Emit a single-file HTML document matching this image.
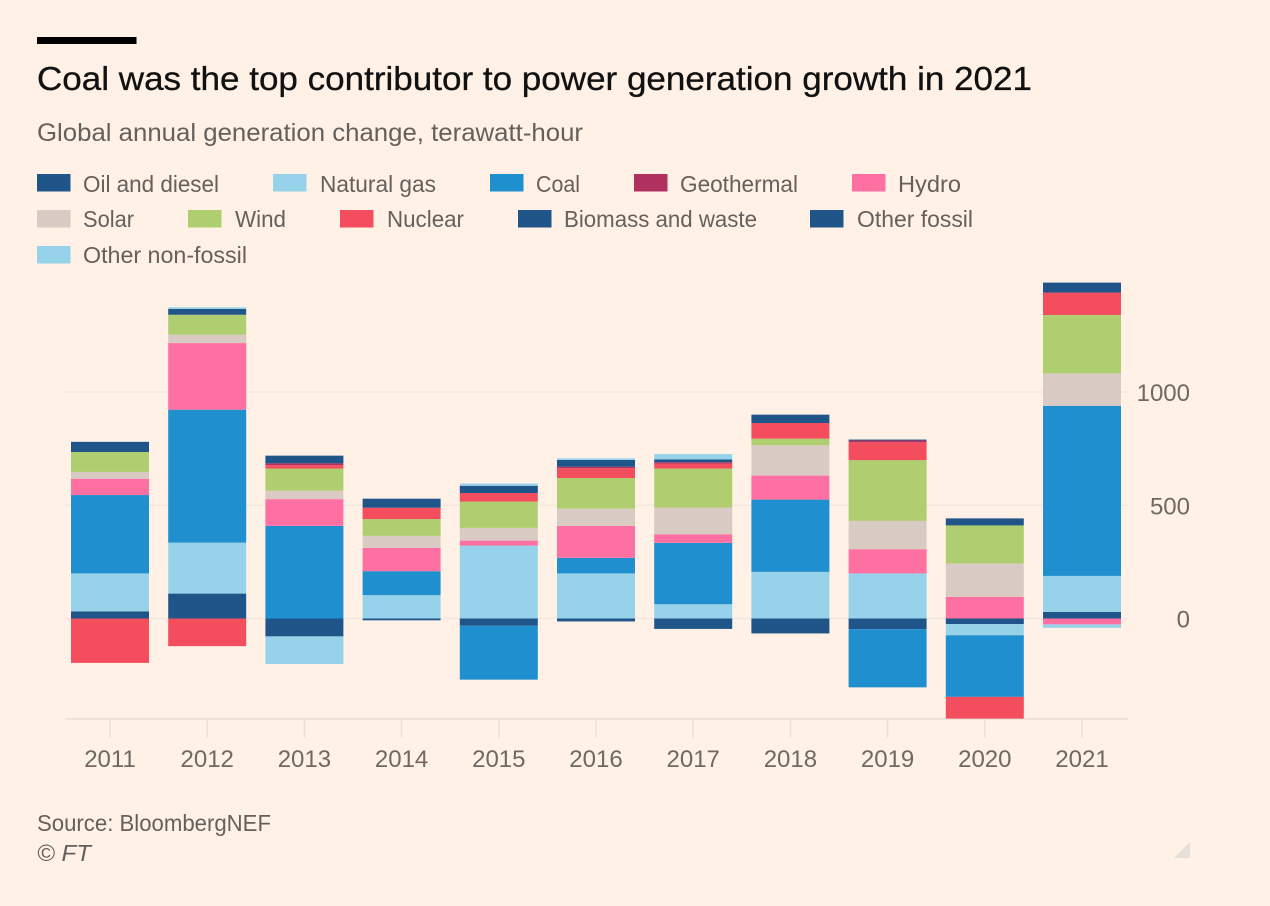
<!DOCTYPE html>
<html lang="en">
<head>
<meta charset="utf-8">
<title>Coal was the top contributor to power generation growth in 2021</title>
<style>
html,body{margin:0;padding:0;background:#fff1e6;}
svg{display:block;font-family:"Liberation Sans",sans-serif;}
.lg{font-size:23px;fill:#66605c;}
.tick{font-size:24px;fill:#6f6964;}
</style>
</head>
<body>
<svg id="chart" width="1270" height="906" viewBox="0 0 1270 906" xmlns="http://www.w3.org/2000/svg">
  <rect x="0" y="0" width="1270" height="906" fill="#fff1e6"/>
  <rect x="37" y="37" width="99.500" height="7" fill="#000"/>
  <text x="37" y="90" font-size="33" fill="#111" stroke="#111" stroke-width="0.3" textLength="995" lengthAdjust="spacingAndGlyphs">Coal was the top contributor to power generation growth in 2021</text>
  <text x="37" y="141" font-size="25" fill="#66605c" textLength="546" lengthAdjust="spacingAndGlyphs">Global annual generation change, terawatt-hour</text>

  <g>
    <g><rect x="37" y="174" width="33.500" height="17.500" fill="#20558a"/><text class="lg" x="83" y="192" textLength="136" lengthAdjust="spacingAndGlyphs">Oil and diesel</text></g>
    <g><rect x="273" y="174" width="33.500" height="17.500" fill="#96d2e9"/><text class="lg" x="320" y="192" textLength="116" lengthAdjust="spacingAndGlyphs">Natural gas</text></g>
    <g><rect x="490" y="174" width="33.500" height="17.500" fill="#1f8fcf"/><text class="lg" x="536" y="192" textLength="44" lengthAdjust="spacingAndGlyphs">Coal</text></g>
    <g><rect x="634" y="174" width="33.500" height="17.500" fill="#b03060"/><text class="lg" x="680" y="192" textLength="118" lengthAdjust="spacingAndGlyphs">Geothermal</text></g>
    <g><rect x="852" y="174" width="33.500" height="17.500" fill="#ff70a2"/><text class="lg" x="898" y="192" textLength="63" lengthAdjust="spacingAndGlyphs">Hydro</text></g>
    <g><rect x="37" y="210" width="33.500" height="17.500" fill="#d9cbc3"/><text class="lg" x="83" y="227" textLength="51" lengthAdjust="spacingAndGlyphs">Solar</text></g>
    <g><rect x="188" y="210" width="33.500" height="17.500" fill="#afce70"/><text class="lg" x="235" y="227" textLength="51" lengthAdjust="spacingAndGlyphs">Wind</text></g>
    <g><rect x="340" y="210" width="33.500" height="17.500" fill="#f44e5e"/><text class="lg" x="387" y="227" textLength="77" lengthAdjust="spacingAndGlyphs">Nuclear</text></g>
    <g><rect x="518" y="210" width="33.500" height="17.500" fill="#20558a"/><text class="lg" x="564" y="227" textLength="193" lengthAdjust="spacingAndGlyphs">Biomass and waste</text></g>
    <g><rect x="810" y="210" width="33.500" height="17.500" fill="#20558a"/><text class="lg" x="857" y="227" textLength="116" lengthAdjust="spacingAndGlyphs">Other fossil</text></g>
    <g><rect x="37" y="246" width="33.500" height="17.500" fill="#96d2e9"/><text class="lg" x="83" y="263" textLength="164" lengthAdjust="spacingAndGlyphs">Other non-fossil</text></g>
  </g>

  <g id="grid"></g>
  <g id="xaxis"></g>
  <g id="bars"></g>
  <g id="yaxis"></g>

  <text x="37" y="831" font-size="23" fill="#66605c" textLength="234" lengthAdjust="spacingAndGlyphs">Source: BloombergNEF</text>
  <text x="37" y="861" font-size="23" font-style="italic" fill="#66605c" textLength="54" lengthAdjust="spacingAndGlyphs">© FT</text>
  <polygon points="1190,842 1190,858 1174,858" fill="#e6e0db"/>
</svg>

<script>
var years = ['2011','2012','2013','2014','2015','2016','2017','2018','2019','2020','2021'];
var yTicks = [0, 500, 1000];
var oilDiesel = [31,110,-79,-8,-32,-13,-46,-66,-47,-25,29];
var naturalGas = [168,225,-122,103,322,199,63,206,199,-49,159];
var coal = [346,587,409,106,-238,69,271,319,-257,-272,751];
var hydro = [72,294,118,103,22,141,38,106,107,96,-26];
var solar = [30,37,37,53,56,76,118,134,125,147,143];
var wind = [88,88,98,74,116,135,172,29,268,168,258];
var nuclear = [-196,-122,15,50,38,44,22,69,79,-96,99];
var geothermal = [0,0,8,0,0,6,6,0,8,0,0];
var biomassWaste = [45,26,34,40,32,30,12,37,4,31,44];
var otherFossil = [0,0,0,0,0,0,0,0,0,0,0];
var otherNonFossil = [0,7,0,0,10,7,24,0,0,0,-15];
var axisMinimum = -443;

var NS = 'http://www.w3.org/2000/svg';
var seriesList = [
  {key:'oil-and-diesel', values:oilDiesel, color:'#20558a'},
  {key:'natural-gas', values:naturalGas, color:'#96d2e9'},
  {key:'coal', values:coal, color:'#1f8fcf'},
  {key:'hydro', values:hydro, color:'#ff70a2'},
  {key:'solar', values:solar, color:'#d9cbc3'},
  {key:'wind', values:wind, color:'#afce70'},
  {key:'nuclear', values:nuclear, color:'#f44e5e'},
  {key:'geothermal', values:geothermal, color:'#b03060'},
  {key:'biomass-and-waste', values:biomassWaste, color:'#20558a'},
  {key:'other-fossil', values:otherFossil, color:'#20558a'},
  {key:'other-non-fossil', values:otherNonFossil, color:'#96d2e9'}
];
function yScale(v){ return 618.5 - v * 0.2265; }
function xScale(i){ return 110 + i * 97.2; }
var barWidth = 78;
function make(tag, attrs, parent){
  var el = document.createElementNS(NS, tag);
  for (var k in attrs) el.setAttribute(k, attrs[k]);
  parent.appendChild(el);
  return el;
}

var grid = document.getElementById('grid');
yTicks.forEach(function(t){
  var line = make('line', {x1:65, x2:1128, y1:yScale(t), y2:yScale(t), stroke:'#f4e8de', 'stroke-width':1.5}, grid);
  
  
});

var xaxis = document.getElementById('xaxis');
var baseY = yScale(axisMinimum);
var baseLine = make('line', {x1:65, x2:1128, y1:baseY, y2:baseY, stroke:'#eee2d8', 'stroke-width':2}, xaxis);


years.forEach(function(yr, i){
  var tick = make('line', {x1:xScale(i), x2:xScale(i), y1:baseY, y2:baseY + 19, stroke:'#ebe0d6', 'stroke-width':1.5}, xaxis);
  
  
  var label = make('text', {x:xScale(i), y:767, 'text-anchor':'middle', 'class':'tick'}, xaxis);
  
  
  label.textContent = yr;
});

var bars = document.getElementById('bars');
years.forEach(function(yr, i){
  var pos = 0, neg = 0;
  var group = make('g', {}, bars);
  
  
  seriesList.forEach(function(s){
    var v = s.values[i];
    if (!v) return;
    var from, to;
    if (v > 0) { from = pos; to = pos + v; pos = to; }
    else { from = neg; to = neg + v; neg = to; }
    var y0 = yScale(Math.max(from, to));
    var y1 = yScale(Math.min(from, to));
    var r = make('rect', {x:xScale(i) - barWidth / 2, y:y0, width:barWidth, height:y1 - y0, fill:s.color}, group);
    
    
  });
});

var yaxis = document.getElementById('yaxis');
yTicks.forEach(function(t){
  var label = make('text', {x:1190, y:yScale(t) + 9, 'text-anchor':'end', 'class':'tick'}, yaxis);
  
  
  label.textContent = String(t);
});
</script>
</body>
</html>
